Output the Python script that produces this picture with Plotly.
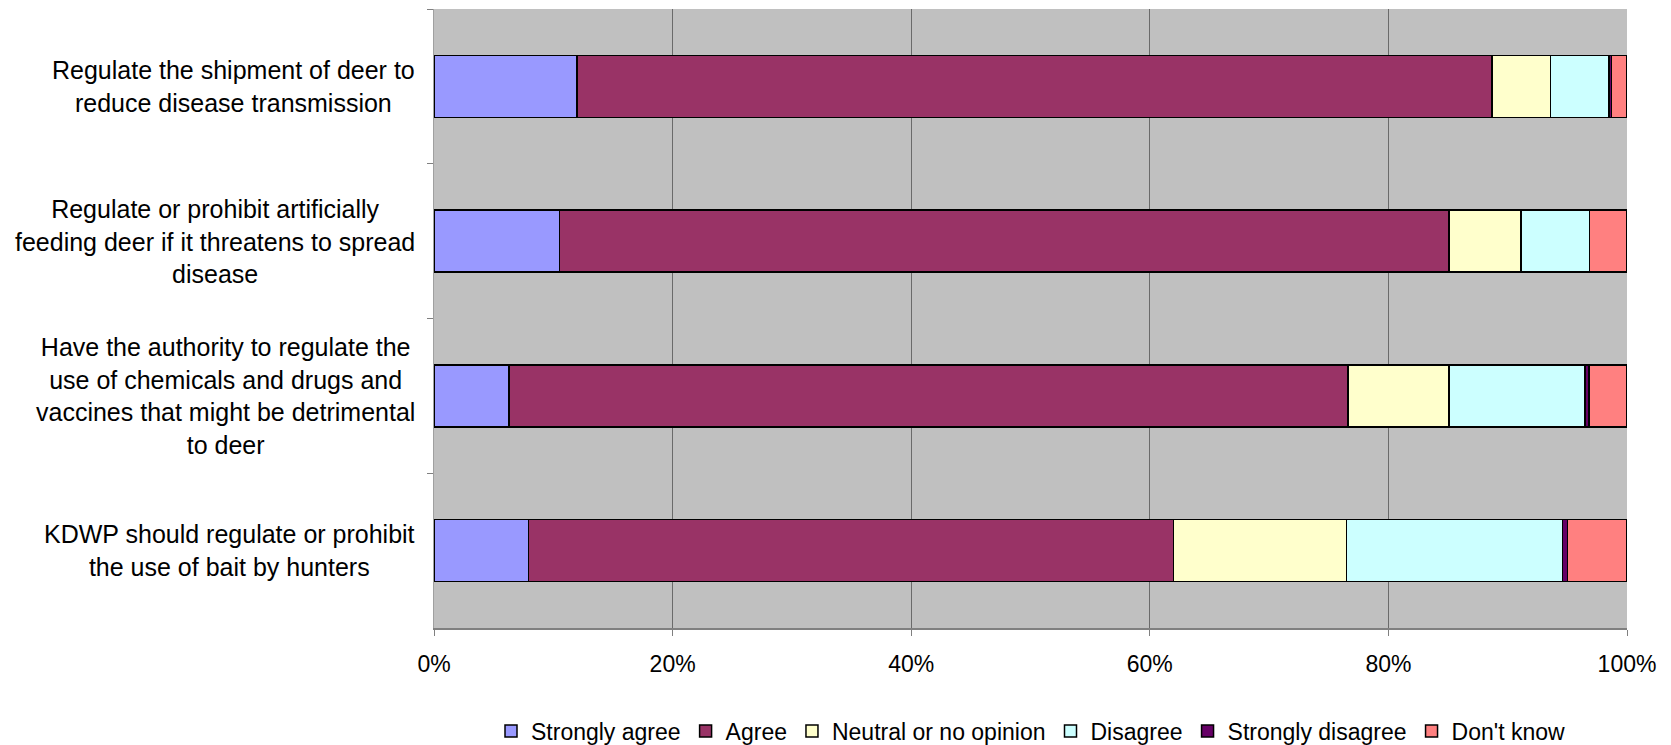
import plotly.graph_objects as go

categories = [
    "Regulate the shipment of deer to<br>reduce disease transmission",
    "Regulate or prohibit artificially<br>feeding deer if it threatens to spread<br>disease",
    "Have the authority to regulate the<br>use of chemicals and drugs and<br>vaccines that might be detrimental<br>to deer",
    "KDWP should regulate or prohibit<br>the use of bait by hunters",
]
cat_ids = ["Q1", "Q2", "Q3", "Q4"]

strongly_agree = [12.0, 10.5, 6.3, 7.9]
agree = [76.7, 74.6, 70.3, 54.1]
neutral = [4.9, 6.0, 8.5, 14.5]
disagree = [4.9, 5.75, 11.4, 18.1]
strongly_disagree = [0.2, 0.0, 0.3, 0.4]
dont_know = [1.3, 3.15, 3.2, 5.0]

series_names = ["Strongly agree", "Agree", "Neutral or no opinion", "Disagree",
                "Strongly disagree", "Don't know"]
series_values = [strongly_agree, agree, neutral, disagree, strongly_disagree, dont_know]
colors = ["#9999FF", "#993366", "#FFFFCC", "#CCFFFF", "#660066", "#FF8080"]

tick_vals = [0, 20, 40, 60, 80, 100]
tick_text = ["0%", "20%", "40%", "60%", "80%", "100%"]

FONT = "Liberation Sans, Arial, sans-serif"

fig = go.Figure()
for name, vals, col in zip(series_names, series_values, colors):
    fig.add_trace(go.Bar(
        y=cat_ids, x=vals, name=name, orientation="h",
        marker=dict(color=col, line=dict(color="black", width=1.5)),
    ))

for cid, label in zip(cat_ids, categories):
    fig.add_annotation(
        x=0, xref="paper", y=cid, yref="y", text=label, showarrow=False,
        xanchor="right", align="center", xshift=-17,
        font=dict(family=FONT, size=25, color="black"),
    )

fig.update_layout(
    barmode="stack",
    bargap=0.6,
    width=1671, height=745,
    margin=dict(l=426, r=52, t=1, b=125),
    plot_bgcolor="#C0C0C0",
    paper_bgcolor="white",
    font=dict(family=FONT, size=22, color="black"),
    legend=dict(orientation="h", x=0.5, xanchor="center",
                yref="container", y=0.0295, yanchor="middle",
                font=dict(size=23), traceorder="normal", itemwidth=30,
                tracegroupgap=0),
    xaxis=dict(range=[0, 100], tickvals=tick_vals, ticktext=tick_text,
               showgrid=True, gridcolor="#6a6a6a", gridwidth=1,
               showline=True, linecolor="#808080", linewidth=2,
               ticks="outside", ticklen=6, tickcolor="#808080",
               ticklabelstandoff=8, zeroline=False,
               tickfont=dict(size=23)),
    yaxis=dict(autorange="reversed", showticklabels=False,
               showline=True, linecolor="#a0a0a0", linewidth=1,
               ticks="outside", tickson="boundaries", ticklen=6, tickcolor="#808080",
               showgrid=False),
)

fig.write_html("out.html")
